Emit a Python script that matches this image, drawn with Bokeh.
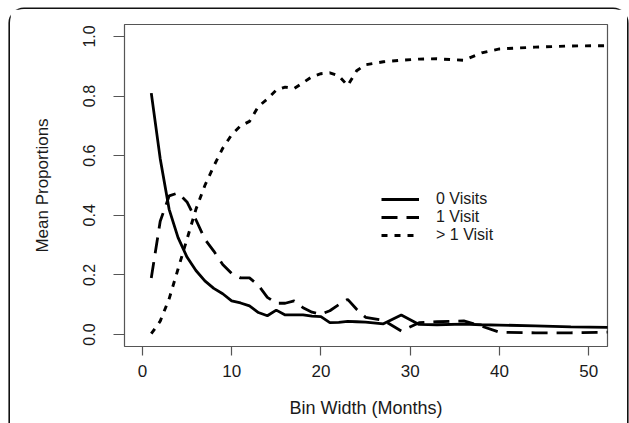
from bokeh.plotting import figure
from bokeh.models import Legend, LegendItem, FixedTicker, Range1d
from bokeh.embed import file_html
from bokeh.resources import INLINE

# ---- data ----
months = [1, 2, 3, 4, 5, 6, 7, 8, 9, 10, 11, 12, 13, 14, 15, 16, 17, 18, 19, 20,
          21, 22, 23, 24, 25, 27, 29, 31, 33, 36, 38, 40, 44, 48, 56]
zero_visits = [0.81, 0.59, 0.42, 0.325, 0.26, 0.215, 0.18, 0.155, 0.137, 0.113,
               0.106, 0.096, 0.074, 0.063, 0.082, 0.066, 0.066, 0.066, 0.062, 0.060,
               0.040, 0.041, 0.044, 0.043, 0.042, 0.036, 0.066, 0.034, 0.033, 0.035,
               0.033, 0.032, 0.029, 0.026, 0.023]
one_visit = [0.19, 0.38, 0.465, 0.475, 0.445, 0.385, 0.32, 0.28, 0.235, 0.205,
             0.19, 0.19, 0.165, 0.125, 0.105, 0.105, 0.113, 0.09, 0.075, 0.068,
             0.08, 0.10, 0.118, 0.085, 0.058, 0.048, 0.012, 0.04, 0.043, 0.046,
             0.028, 0.008, 0.006, 0.006, 0.01]
more_visits = [0.003, 0.045, 0.12, 0.22, 0.32, 0.42, 0.50, 0.565, 0.625, 0.67,
               0.70, 0.715, 0.765, 0.79, 0.82, 0.83, 0.825, 0.845, 0.865, 0.875,
               0.878, 0.868, 0.835, 0.885, 0.905, 0.915, 0.92, 0.924, 0.925, 0.92,
               0.945, 0.958, 0.964, 0.968, 0.97]
series_labels = ["0 Visits", "1 Visit", "> 1 Visit"]
x_ticks = [0, 10, 20, 30, 40, 50]
y_ticks = [0.0, 0.2, 0.4, 0.6, 0.8, 1.0]

FONT = "Liberation Sans"
W, H = 617, 414

p = figure(width=W, height=H, output_backend="svg", toolbar_location=None,
           x_range=Range1d(-2.0, 52.1), y_range=Range1d(-0.04, 1.04),
           min_border_left=114, min_border_right=W - 597,
           min_border_top=15, min_border_bottom=H - 337)
p.styles = {"margin-left": "10px", "margin-top": "9px",
            "box-shadow": "0 0 0 1.6px #111111",
            "border-radius": "14px 14px 0 0"}
p.xgrid.visible = False
p.ygrid.visible = False
p.outline_line_color = "#555555"
p.outline_line_width = 1.2
p.background_fill_color = "white"
p.border_fill_color = "white"

r0 = p.line(months, zero_visits, line_color="black", line_width=2.8)
r1 = p.line(months, one_visit, line_color="black", line_width=2.8, line_dash="16 9")
r2 = p.line(months, more_visits, line_color="black", line_width=2.9, line_dash="6 7")

# axes
xa = p.xaxis[0]
xa.ticker = FixedTicker(ticks=x_ticks)
xa.axis_label = "Bin Width (Months)"
xa.major_tick_out = 9
xa.major_tick_in = 0
xa.major_label_standoff = 9
xa.axis_label_standoff = 18
xa.major_label_text_font_size = "17px"
xa.axis_label_text_font_size = "18px"

ya = p.yaxis[0]
ya.ticker = FixedTicker(ticks=y_ticks)
ya.axis_label = "Mean Proportions"
ya.major_label_overrides = {t: f"{t:.1f}" for t in y_ticks}
ya.major_label_orientation = "vertical"
ya.major_tick_out = 11
ya.major_tick_in = 0
ya.major_label_standoff = 18
ya.axis_label_standoff = 29
ya.major_label_text_font_size = "16px"
ya.axis_label_text_font_size = "17px"

for ax in (xa, ya):
    ax.minor_tick_line_color = None
    ax.axis_line_color = None
    ax.major_tick_line_color = "#555555"
    ax.major_tick_line_width = 1.2
    ax.major_label_text_font = FONT
    ax.major_label_text_color = "#1a1a1a"
    ax.axis_label_text_font = FONT
    ax.axis_label_text_font_style = "normal"
    ax.axis_label_text_color = "#1a1a1a"

legend = Legend(items=[LegendItem(label=series_labels[0], renderers=[r0]),
                       LegendItem(label=series_labels[1], renderers=[r1]),
                       LegendItem(label=series_labels[2], renderers=[r2])],
                location=(257, 102), border_line_color=None,
                background_fill_alpha=0, padding=0, margin=0, spacing=0,
                glyph_width=38, glyph_height=18, label_height=18,
                label_standoff=17, label_text_font=FONT,
                label_text_font_size="16px", label_text_color="#1a1a1a")
p.add_layout(legend, "center")

open("out.html", "w").write(file_html(p, INLINE))
